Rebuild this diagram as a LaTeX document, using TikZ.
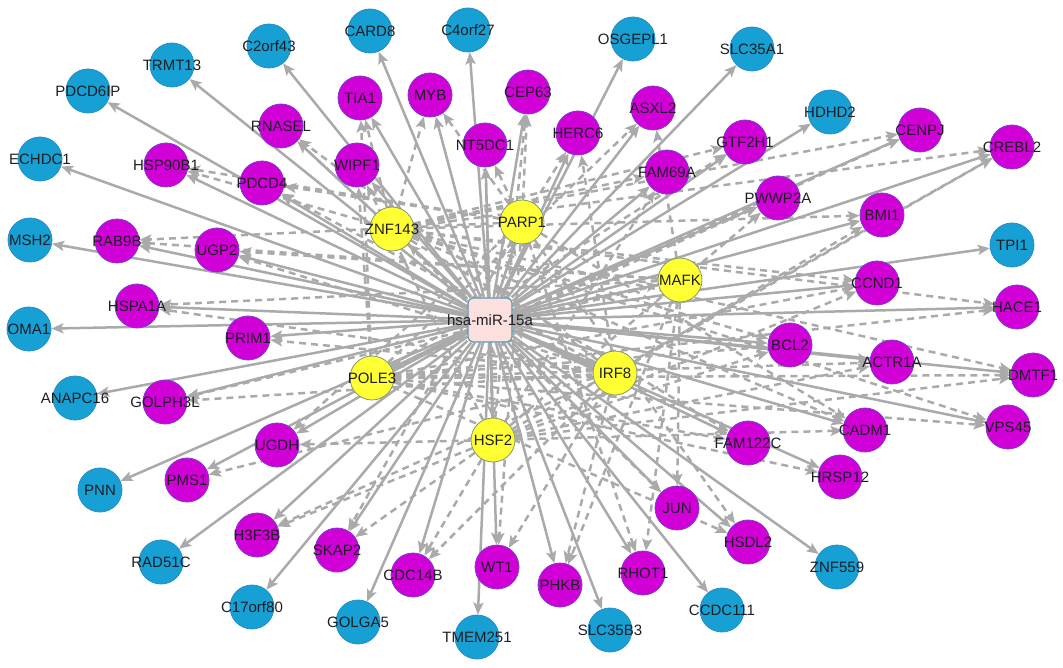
\documentclass[tikz,border=0pt]{standalone}
\usepackage{fontspec}
\setmainfont{Liberation Sans}
\usetikzlibrary{arrows.meta,backgrounds}
\definecolor{cblue}{RGB}{22,160,212}
\definecolor{cblueb}{RGB}{40,140,200}
\definecolor{cmag}{RGB}{208,0,214}
\definecolor{cmagb}{RGB}{120,60,210}
\definecolor{cyel}{RGB}{255,255,51}
\definecolor{cyelb}{RGB}{130,150,110}
\definecolor{cpink}{RGB}{252,224,222}
\definecolor{cpinkb}{RGB}{90,150,180}
\definecolor{cedge}{RGB}{170,170,170}
\definecolor{ctext}{RGB}{30,30,36}
\tikzset{
  base/.style={circle,minimum size=44pt,inner sep=0pt,line width=0.8pt},
  bn/.style={base,fill=cblue,draw=cblueb},
  mn/.style={base,fill=cmag,draw=cmagb},
  yn/.style={base,fill=cyel,draw=cyelb},
  hub/.style={rectangle,minimum size=44pt,inner sep=0pt,rounded corners=5pt,fill=cpink,draw=cpinkb,line width=1.2pt},
  lab/.style={font=\fontsize{15}{17}\selectfont,text=ctext,inner sep=0pt},
  sol/.style={draw=cedge,line width=2.5pt,-{Stealth[length=12pt,width=10pt,inset=2.5pt]}},
  das/.style={sol,dash pattern=on 7pt off 5pt}
}
\newcommand\gene[4]{\node[#1,label={[lab]center:#4}] (#2) at (#3) {};}
\begin{document}
\begin{tikzpicture}[x=1pt,y=-1pt]
\useasboundingbox (0,0) rectangle (1063,668);
% hub
\node[hub,label={[lab]center:hsa-miR-15a}] (mir) at (490,320) {};
% blue
\gene{bn}{pdcd6ip}{88,91}{PDCD6IP}
\gene{bn}{trmt13}{172,65}{TRMT13}
\gene{bn}{c2orf43}{269,46}{C2orf43}
\gene{bn}{card8}{370,31}{CARD8}
\gene{bn}{c4orf27}{468,30}{C4orf27}
\gene{bn}{osgepl1}{633,39}{OSGEPL1}
\gene{bn}{slc35a1}{752,49}{SLC35A1}
\gene{bn}{hdhd2}{830,112}{HDHD2}
\gene{bn}{echdc1}{40,159}{ECHDC1}
\gene{bn}{msh2}{30,240}{MSH2}
\gene{bn}{oma1}{29,329}{OMA1}
\gene{bn}{anapc16}{75,398}{ANAPC16}
\gene{bn}{pnn}{100,490}{PNN}
\gene{bn}{rad51c}{161,562}{RAD51C}
\gene{bn}{c17orf80}{252,607}{C17orf80}
\gene{bn}{golga5}{358,622}{GOLGA5}
\gene{bn}{tmem251}{477,637}{TMEM251}
\gene{bn}{slc35b3}{610,630}{SLC35B3}
\gene{bn}{ccdc111}{722,610}{CCDC111}
\gene{bn}{znf559}{837,567}{ZNF559}
\gene{bn}{tpi1}{1012,245}{TPI1}
% magenta
\gene{mn}{tia1}{360,98}{TIA1}
\gene{mn}{myb}{430,95}{MYB}
\gene{mn}{cep63}{528,92}{CEP63}
\gene{mn}{rnasel}{281,126}{RNASEL}
\gene{mn}{wipf1}{357,165}{WIPF1}
\gene{mn}{nt5dc1}{485,145}{NT5DC1}
\gene{mn}{herc6}{578,133}{HERC6}
\gene{mn}{asxl2}{653,108}{ASXL2}
\gene{mn}{fam69a}{667,172}{FAM69A}
\gene{mn}{gtf2h1}{745,142}{GTF2H1}
\gene{mn}{cenpj}{920,130}{CENPJ}
\gene{mn}{crebl2}{1012,147}{CREBL2}
\gene{mn}{pwwp2a}{778,198}{PWWP2A}
\gene{mn}{bmi1}{882,215}{BMI1}
\gene{mn}{hsp90b1}{166,165}{HSP90B1}
\gene{mn}{pdcd4}{262,183}{PDCD4}
\gene{mn}{rab9b}{117,241}{RAB9B}
\gene{mn}{ugp2}{217,250}{UGP2}
\gene{mn}{hspa1a}{137,306}{HSPA1A}
\gene{mn}{prim1}{248,338}{PRIM1}
\gene{mn}{golph3l}{165,402}{GOLPH3L}
\gene{mn}{ugdh}{277,445}{UGDH}
\gene{mn}{pms1}{187,480}{PMS1}
\gene{mn}{h3f3b}{257,535}{H3F3B}
\gene{mn}{skap2}{337,550}{SKAP2}
\gene{mn}{cdc14b}{413,575}{CDC14B}
\gene{mn}{wt1}{497,567}{WT1}
\gene{mn}{phkb}{560,585}{PHKB}
\gene{mn}{rhot1}{643,573}{RHOT1}
\gene{mn}{jun}{677,508}{JUN}
\gene{mn}{hsdl2}{748,542}{HSDL2}
\gene{mn}{fam122c}{748,443}{FAM122C}
\gene{mn}{hrsp12}{840,477}{HRSP12}
\gene{mn}{cadm1}{865,430}{CADM1}
\gene{mn}{vps45}{1008,427}{VPS45}
\gene{mn}{dmtf1}{1033,375}{DMTF1}
\gene{mn}{actr1a}{892,362}{ACTR1A}
\gene{mn}{bcl2}{790,345}{BCL2}
\gene{mn}{hace1}{1017,307}{HACE1}
\gene{mn}{ccnd1}{877,283}{CCND1}
% yellow
\gene{yn}{znf143}{392,229}{ZNF143}
\gene{yn}{parp1}{522,222}{PARP1}
\gene{yn}{mafk}{680,280}{MAFK}
\gene{yn}{pole3}{372,378}{POLE3}
\gene{yn}{irf8}{615,373}{IRF8}
\gene{yn}{hsf2}{493,440}{HSF2}
\begin{pgfonlayer}{background}
\foreach \s/\t in {
 znf143/tia1,pole3/tia1,parp1/myb,znf143/myb,hsf2/cep63,parp1/cep63,
 znf143/rnasel,irf8/rnasel,pole3/wipf1,hsf2/wipf1,parp1/nt5dc1,hsf2/nt5dc1,
 parp1/herc6,irf8/herc6,mafk/asxl2,pole3/asxl2,znf143/fam69a,hsf2/fam69a,
 pole3/gtf2h1,znf143/gtf2h1,pole3/cenpj,znf143/cenpj,znf143/crebl2,irf8/crebl2,hsf2/crebl2,
 pole3/pwwp2a,hsf2/pwwp2a,znf143/bmi1,irf8/bmi1,parp1/hsp90b1,znf143/hsp90b1,
 parp1/pdcd4,irf8/pdcd4,parp1/rab9b,mafk/rab9b,mafk/ugp2,irf8/ugp2,
 irf8/hspa1a,mafk/hspa1a,irf8/prim1,mafk/golph3l,irf8/golph3l,parp1/ugdh,hsf2/ugdh,
 irf8/pms1,hsf2/h3f3b,irf8/h3f3b,hsf2/skap2,parp1/skap2,hsf2/cdc14b,irf8/cdc14b,
 irf8/wt1,parp1/wt1,irf8/phkb,mafk/phkb,mafk/rhot1,parp1/rhot1,
 znf143/jun,mafk/jun,parp1/hsdl2,pole3/hsdl2,znf143/fam122c,pole3/fam122c,
 pole3/hrsp12,hsf2/cadm1,znf143/cadm1,parp1/cadm1,pole3/vps45,znf143/vps45,
 pole3/dmtf1,hsf2/dmtf1,znf143/dmtf1,hsf2/actr1a,pole3/actr1a,
 znf143/bcl2,pole3/bcl2,hsf2/bcl2,znf143/hace1,pole3/hace1,
 pole3/ccnd1,hsf2/ccnd1,znf143/ccnd1,
 znf143/mir,parp1/mir,mafk/mir,pole3/mir,irf8/mir,hsf2/mir}
 \draw[das] (\s) -- (\t);
\foreach \t in {pdcd6ip,trmt13,c2orf43,card8,c4orf27,osgepl1,slc35a1,hdhd2,echdc1,msh2,oma1,anapc16,pnn,rad51c,c17orf80,golga5,tmem251,slc35b3,ccdc111,znf559,tpi1,
 tia1,myb,cep63,rnasel,wipf1,nt5dc1,herc6,asxl2,fam69a,gtf2h1,cenpj,crebl2,pwwp2a,bmi1,hsp90b1,pdcd4,rab9b,ugp2,hspa1a,prim1,golph3l,ugdh,pms1,h3f3b,skap2,cdc14b,wt1,phkb,rhot1,jun,hsdl2,fam122c,hrsp12,cadm1,vps45,dmtf1,actr1a,bcl2,hace1,ccnd1,
 znf143,parp1,mafk,pole3,irf8,hsf2}
 \draw[sol] (mir) -- (\t);
\end{pgfonlayer}
\end{tikzpicture}
\end{document}
